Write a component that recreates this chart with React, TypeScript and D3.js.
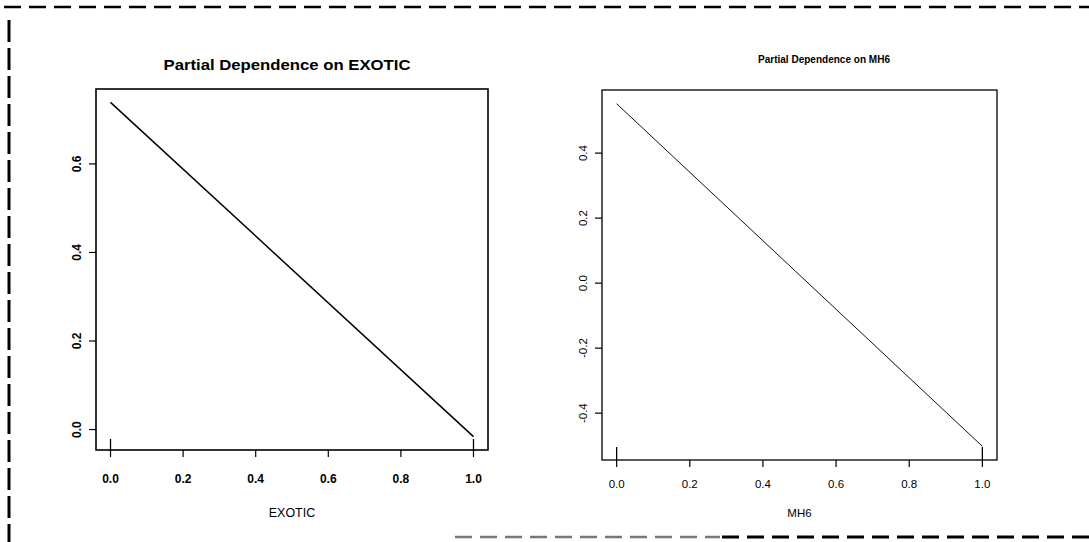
import React from "react";
import * as d3 from "d3";

const W = 1089;
const H = 542;

// Data
const exoticX = [0, 1];
const exoticY = [0.739, -0.016];
const exoticXTicks = [0, 0.2, 0.4, 0.6, 0.8, 1.0];
const exoticYTicks = [0, 0.2, 0.4, 0.6];
const exoticRug = [0, 1];

const mh6X = [0, 1];
const mh6Y = [0.552, -0.502];
const mh6XTicks = [0, 0.2, 0.4, 0.6, 0.8, 1.0];
const mh6YTicks = [-0.4, -0.2, 0, 0.2, 0.4];
const mh6Rug = [0, 1];

const locale = d3.formatLocale({
  decimal: ".",
  thousands: ",",
  grouping: [3],
  currency: ["", ""],
  minus: "-",
});
const fmt = locale.format(".1f");

type PanelProps = {
  xs: number[];
  ys: number[];
  xTicks: number[];
  yTicks: number[];
  rug: number[];
  left: number;
  right: number;
  top: number;
  bottom: number;
  title: string;
  titleX: number;
  titleY: number;
  titleSize: number;
  titleLen: number;
  xlab: string;
  xlabY: number;
  xlabSize: number;
  tickSize: number;
  tickWeight: string;
  xTickLabelY: number;
  yTickLabelX: number;
  lineW: number;
  boxW: number;
  lineColor: string;
  rugLen: number;
};

function Panel(p: PanelProps) {
  const xExt = d3.extent(p.xs) as [number, number];
  const yExt = d3.extent(p.ys) as [number, number];
  const xPad = (xExt[1] - xExt[0]) * 0.04;
  const yPad = (yExt[1] - yExt[0]) * 0.04;
  const x = d3.scaleLinear().domain([xExt[0] - xPad, xExt[1] + xPad]).range([p.left, p.right]);
  const y = d3.scaleLinear().domain([yExt[0] - yPad, yExt[1] + yPad]).range([p.bottom, p.top]);
  const line = d3
    .line<number>()
    .x((_, i) => x(p.xs[i]))
    .y((d) => y(d));
  const font = "'Liberation Sans', Arial, Helvetica, sans-serif";
  return (
    <g>
      <text
        x={p.titleX}
        y={p.titleY}
        textAnchor="middle"
        fontFamily={font}
        fontWeight="bold"
        fontSize={p.titleSize}
        textLength={p.titleLen}
        lengthAdjust="spacingAndGlyphs"
      >
        {p.title}
      </text>
      <rect
        x={p.left}
        y={p.top}
        width={p.right - p.left}
        height={p.bottom - p.top}
        fill="none"
        stroke="#000"
        strokeWidth={p.boxW}
      />
      <path d={line(p.ys) || ""} fill="none" stroke={p.lineColor} strokeWidth={p.lineW} />
      {p.rug.map((r, i) => (
        <line key={"r" + i} x1={x(r)} x2={x(r)} y1={p.bottom} y2={p.bottom - p.rugLen} stroke="#000" strokeWidth={1.3} />
      ))}
      {p.xTicks.map((t, i) => (
        <g key={"x" + i}>
          <line x1={x(t)} x2={x(t)} y1={p.bottom} y2={p.bottom + 7} stroke="#000" strokeWidth={1.2} />
          <text
            x={x(t)}
            y={p.xTickLabelY}
            textAnchor="middle"
            fontFamily={font}
            fontWeight={p.tickWeight}
            fontSize={p.tickSize}
          >
            {fmt(t)}
          </text>
        </g>
      ))}
      {p.yTicks.map((t, i) => (
        <g key={"y" + i}>
          <line x1={p.left} x2={p.left - 7} y1={y(t)} y2={y(t)} stroke="#000" strokeWidth={1.2} />
          <text
            transform={`translate(${p.yTickLabelX},${y(t)}) rotate(-90)`}
            textAnchor="middle"
            fontFamily={font}
            fontWeight={p.tickWeight}
            fontSize={p.tickSize}
          >
            {fmt(t)}
          </text>
        </g>
      ))}
      <text
        x={(x(0) + x(1)) / 2}
        y={p.xlabY}
        textAnchor="middle"
        fontFamily={font}
        fontSize={p.xlabSize}
      >
        {p.xlab}
      </text>
    </g>
  );
}

export default function App() {
  return (
    <svg
      width={W}
      height={H}
      viewBox={`0 0 ${W} ${H}`}
      style={{ position: "absolute", left: 0, top: 0, background: "#fff" }}
    >
      <rect x={0} y={0} width={W} height={H} fill="#fff" />
      {/* dashed frame */}
      <line x1={4} x2={W} y1={7} y2={7} stroke="#000" strokeWidth={2.5} strokeDasharray="17 8" />
      <line x1={9} x2={9} y1={20} y2={H} stroke="#000" strokeWidth={3} strokeDasharray="22 6" />
      <line x1={455} x2={720} y1={537} y2={537} stroke="#777" strokeWidth={2.5} strokeDasharray="17 8" />
      <line x1={722} x2={W} y1={537} y2={537} stroke="#000" strokeWidth={3} strokeDasharray="17 8" />

      <Panel
        xs={exoticX}
        ys={exoticY}
        xTicks={exoticXTicks}
        yTicks={exoticYTicks}
        rug={exoticRug}
        left={96}
        right={488}
        top={89}
        bottom={450}
        title="Partial Dependence on EXOTIC"
        titleX={287}
        titleY={70}
        titleSize={14}
        titleLen={247}
        xlab="EXOTIC"
        xlabY={517}
        xlabSize={12.5}
        tickSize={12}
        tickWeight="bold"
        xTickLabelY={483}
        yTickLabelX={81}
        lineW={1.5}
        boxW={1.6}
        lineColor="#000"
        rugLen={11}
      />
      <Panel
        xs={mh6X}
        ys={mh6Y}
        xTicks={mh6XTicks}
        yTicks={mh6YTicks}
        rug={mh6Rug}
        left={602}
        right={997}
        top={90}
        bottom={460}
        title="Partial Dependence on MH6"
        titleX={824}
        titleY={63}
        titleSize={11}
        titleLen={132}
        xlab="MH6"
        xlabY={517}
        xlabSize={11.5}
        tickSize={11.5}
        tickWeight="normal"
        xTickLabelY={488}
        yTickLabelX={587}
        lineW={1}
        boxW={1.3}
        lineColor="#111"
        rugLen={13}
      />
    </svg>
  );
}
